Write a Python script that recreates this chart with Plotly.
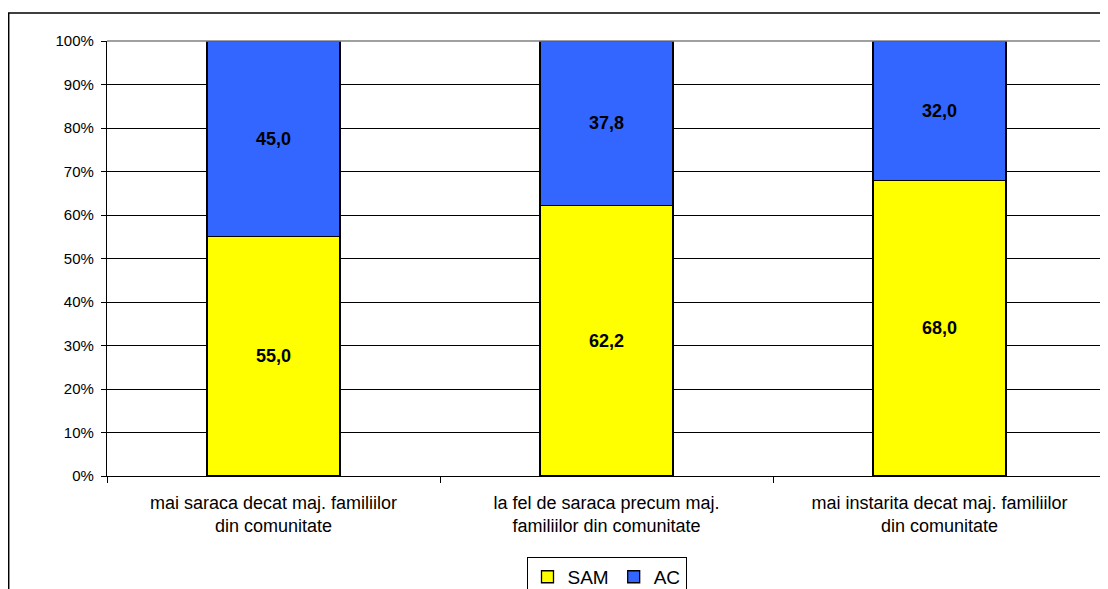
import plotly.graph_objects as go

categories = ['mai saraca decat maj. familiilor<br>din comunitate',
              'la fel de saraca precum maj.<br>familiilor din comunitate',
              'mai instarita decat maj. familiilor<br>din comunitate']
sam = [55.0, 62.2, 68.0]
ac = [45.0, 37.8, 32.0]
y_ticks = [0, 10, 20, 30, 40, 50, 60, 70, 80, 90, 100]

label_font = dict(family='Arial', size=18, color='black', weight='bold')

fig = go.Figure()
fig.add_bar(name='SAM', x=categories, y=sam, marker_color='#FFFF00',
            marker_line=dict(color='black', width=1.3),
            text=[f'{v:.1f}'.replace('.', ',') for v in sam],
            textposition='inside', insidetextanchor='middle', textfont=label_font)
fig.add_bar(name='AC', x=categories, y=ac, marker_color='#3366FF',
            marker_line=dict(color='black', width=1.3),
            text=[f'{v:.1f}'.replace('.', ',') for v in ac],
            textposition='inside', insidetextanchor='middle', textfont=label_font)

# the page body adds an 8px margin, so the figure is 8px smaller than the window
fig.update_layout(
    barmode='stack', bargap=0.6,
    width=1100, height=581,
    margin=dict(l=99, r=2, t=33, b=113, autoexpand=False),
    plot_bgcolor='white', paper_bgcolor='white',
    font=dict(family='Arial', size=15, color='black'),
    xaxis=dict(tickson='boundaries', ticks='outside', ticklen=6, tickcolor='black',
               showline=True, linecolor='black', linewidth=1.3,
               tickfont=dict(size=18), showgrid=False, automargin=False,
               ticklabelstandoff=10),
    yaxis=dict(range=[0, 100], tickvals=y_ticks,
               ticktext=[f'{t}%' for t in y_ticks],
               ticks='outside', ticklen=5, tickcolor='black',
               showline=True, linecolor='black', linewidth=1.3,
               showgrid=True, gridcolor='black', gridwidth=1, zeroline=False,
               tickfont=dict(size=15), automargin=False, ticklabelstandoff=4),
    legend=dict(orientation='h', x=0.5, xanchor='center', y=-0.186, yanchor='top',
                bordercolor='black', borderwidth=1, font=dict(size=19),
                itemwidth=30, traceorder='normal', tracegroupgap=0),
    showlegend=True,
    shapes=[
        # gray frame on top and right of plot area
        dict(type='line', xref='paper', yref='paper', x0=0, x1=1, y0=1, y1=1,
             line=dict(color='#808080', width=1.3)),
        dict(type='line', xref='paper', yref='paper', x0=1, x1=1, y0=0, y1=1,
             line=dict(color='#808080', width=1.3)),
        # outer chart border
        dict(type='rect', xref='paper', yref='paper', x0=-0.0984, x1=1.01,
             y0=-0.5, y1=1.0644, line=dict(color='black', width=1.5), layer='below'),
    ],
)

fig.write_html("out.html")
